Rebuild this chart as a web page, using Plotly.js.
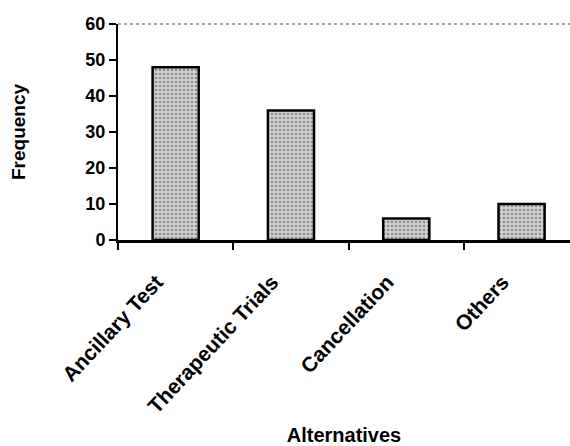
<!DOCTYPE html>
<html>
<head>
<meta charset="utf-8">
<script src="https://cdn.plot.ly/plotly-3.0.1.min.js"></script>
<style>html,body{margin:0;padding:0;background:#fff;}#chart{width:570px;height:446px;}</style>
</head>
<body>
<div id="chart"></div>
<script>
const categories = ["Ancillary Test", "Therapeutic Trials", "Cancellation", "Others"];
const frequency = [48, 36, 6, 10];
const yTicks = [0, 10, 20, 30, 40, 50, 60];

const font = "Liberation Sans, Arial, Helvetica, sans-serif";

const trace = {
  type: "bar",
  x: categories,
  y: frequency,
  width: 0.4,
  marker: {
    color: "#c2c2c2",
    line: {color: "#000", width: 2.5},
    pattern: {shape: ".", fgcolor: "#8f8f8f", bgcolor: "#d2d2d2", size: 4, solidity: 0.35}
  },
  hoverinfo: "x+y"
};

const layout = {
  width: 570, height: 446,
  margin: {l: 118, r: 0, t: 24, b: 206},
  paper_bgcolor: "#fff", plot_bgcolor: "#fff",
  showlegend: false,
  font: {family: font, color: "#000"},
  xaxis: {
    type: "category",
    range: [-0.5, 3.42],
    tickson: "boundaries",
    ticks: "outside", ticklen: 7, tickwidth: 2, tickcolor: "#000",
    showline: true, linecolor: "#000", linewidth: 2.5,
    showgrid: false, zeroline: false,
    tickangle: -47,
    ticklabelshift: -19,
    ticklabelstandoff: 19,
    tickfont: {family: font, size: 21, weight: "bold", color: "#000"},
    title: {text: "Alternatives", font: {family: font, size: 20, weight: "bold", color: "#000"}, standoff: 12}
  },
  yaxis: {
    range: [0, 60],
    tickvals: yTicks,
    ticktext: yTicks.map(String),
    ticks: "outside", ticklen: 7, tickwidth: 2, tickcolor: "#000",
    showline: true, linecolor: "#000", linewidth: 2,
    showgrid: false, zeroline: false,
    tickfont: {family: font, size: 18, weight: "bold", color: "#000"},
    title: {text: "Frequency", font: {family: font, size: 19, weight: "bold", color: "#000"}, standoff: 55}
  },
  shapes: [
    {type: "line", xref: "paper", yref: "paper", x0: 0, x1: 1, y0: 1, y1: 1,
     line: {color: "#888", width: 1.5, dash: "dot"}}
  ]
};

Plotly.newPlot("chart", [trace], layout, {displayModeBar: false, staticPlot: true});
</script>
</body>
</html>
